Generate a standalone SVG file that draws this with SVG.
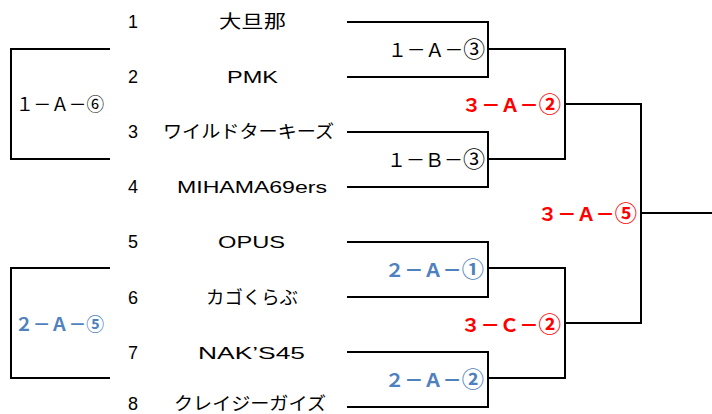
<svg xmlns="http://www.w3.org/2000/svg" width="712" height="414" viewBox="0 0 712 414">
<style>
.ln{fill:none;stroke:#000;stroke-width:2;stroke-linecap:square}
text{font-family:"Liberation Sans","Noto Sans CJK JP",sans-serif;fill:#000}
.num{font-size:18px}
.team{font-size:18px}
.lat{font-size:17px}
.lbl{font-size:19px;font-family:"Noto Sans CJK JP","Liberation Sans",sans-serif}
.sm{font-size:18px}
.c{font-size:22px}
.red{fill:#FF0000;font-weight:bold}
.blue{fill:#4F81BD;font-weight:bold}
</style>
<rect width="712" height="414" fill="#fff"/>
<g id="connectors">
<path class="ln" d="M11,49 H109 M11,49 V159 M11,159 H109"/>
<path class="ln" d="M11,268 H109 M11,268 V378 M11,378 H109"/>
<path class="ln" d="M348,22 H488 V77 H348"/>
<path class="ln" d="M348,132 H488 V187 H348"/>
<path class="ln" d="M348,242 H488 V297 H348"/>
<path class="ln" d="M348,352 H488 V407 H348"/>
<path class="ln" d="M488,49 H565 V159 H488"/>
<path class="ln" d="M488,268 H565 V378 H488"/>
<path class="ln" d="M565,104 H641 V323 H565"/>
<path class="ln" d="M641,213 H712"/>
</g>
<g id="team1"><text class="num" x="128" y="28">1</text><text class="team" x="219" y="28" textLength="67" lengthAdjust="spacingAndGlyphs">大旦那</text></g>
<g id="team2"><text class="num" x="128" y="83">2</text><text class="team lat" x="227" y="83" textLength="51" lengthAdjust="spacingAndGlyphs">PMK</text></g>
<g id="team3"><text class="num" x="128" y="138">3</text><text class="team" x="163" y="138" textLength="171" lengthAdjust="spacingAndGlyphs">ワイルドターキーズ</text></g>
<g id="team4"><text class="num" x="128" y="193">4</text><text class="team lat" x="177" y="193" textLength="150" lengthAdjust="spacingAndGlyphs">MIHAMA69ers</text></g>
<g id="team5"><text class="num" x="128" y="248">5</text><text class="team lat" x="218" y="248" textLength="67" lengthAdjust="spacingAndGlyphs">OPUS</text></g>
<g id="team6"><text class="num" x="128" y="304">6</text><text class="team" x="206" y="304" textLength="92" lengthAdjust="spacingAndGlyphs">カゴくらぶ</text></g>
<g id="team7"><text class="num" x="128" y="359">7</text><text class="team lat" x="198" y="359" textLength="107" lengthAdjust="spacingAndGlyphs">NAK’S45</text></g>
<g id="team8"><text class="num" x="128" y="410">8</text><text class="team" x="174" y="410" textLength="152" lengthAdjust="spacingAndGlyphs">クレイジーガイズ</text></g>
<g id="m1A6"><text class="lbl sm" x="16" y="111" textLength="88" lengthAdjust="spacingAndGlyphs">１－Ａ－⑥</text></g>
<g id="m2A5"><text class="lbl sm blue" x="15" y="331" textLength="89" lengthAdjust="spacingAndGlyphs">２－Ａ－⑤</text></g>
<g id="m1A3"><text class="lbl" x="388" y="57" textLength="97" lengthAdjust="spacingAndGlyphs">１－Ａ－<tspan class="c">③</tspan></text></g>
<g id="m1B3"><text class="lbl" x="387" y="167" textLength="98" lengthAdjust="spacingAndGlyphs">１－Ｂ－<tspan class="c">③</tspan></text></g>
<g id="m3A2"><text class="lbl red" x="462" y="112" textLength="99" lengthAdjust="spacingAndGlyphs">３－Ａ－<tspan class="c">②</tspan></text></g>
<g id="m3A5"><text class="lbl red" x="538" y="221" textLength="99" lengthAdjust="spacingAndGlyphs">３－Ａ－<tspan class="c">⑤</tspan></text></g>
<g id="m2A1"><text class="lbl blue" x="385" y="277" textLength="99" lengthAdjust="spacingAndGlyphs">２－Ａ－<tspan class="c">①</tspan></text></g>
<g id="m3C2"><text class="lbl red" x="461" y="332" textLength="100" lengthAdjust="spacingAndGlyphs">３－Ｃ－<tspan class="c">②</tspan></text></g>
<g id="m2A2"><text class="lbl blue" x="385" y="387" textLength="99" lengthAdjust="spacingAndGlyphs">２－Ａ－<tspan class="c">②</tspan></text></g>
</svg>
